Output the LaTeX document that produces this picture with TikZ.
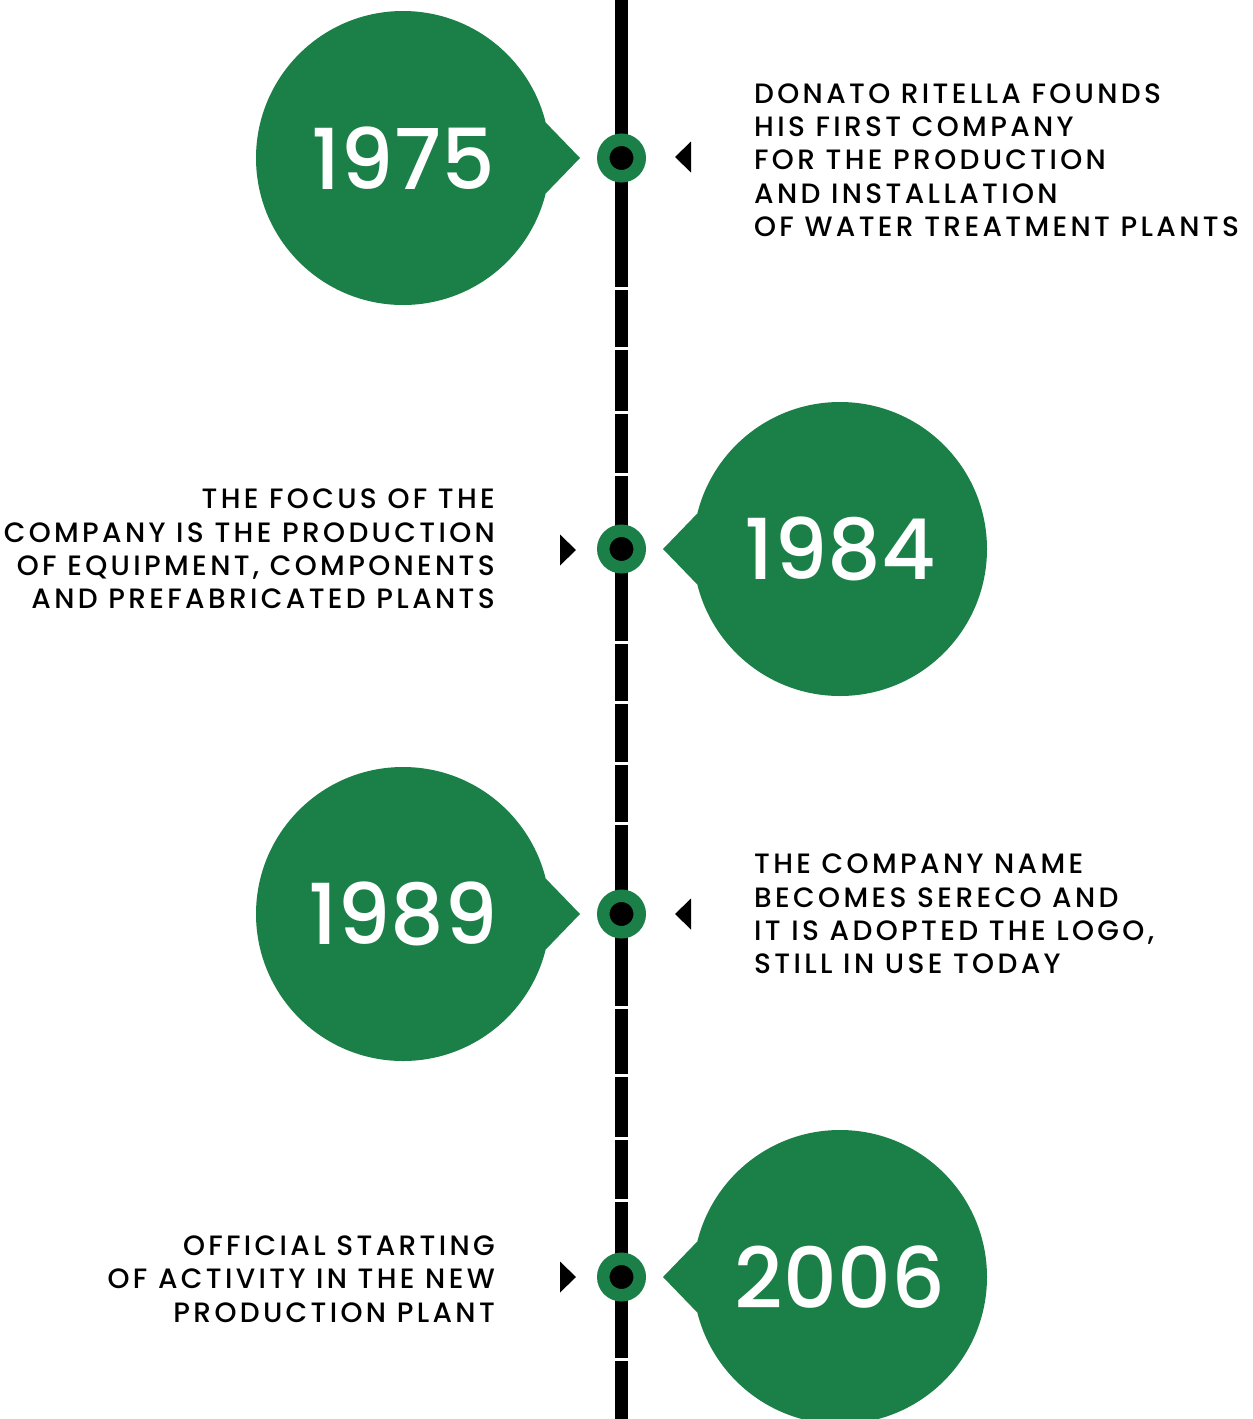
\documentclass[tikz,border=0pt]{standalone}
\usepackage{fontspec}
\setmainfont{Poppins}[UprightFont=* Medium]
\definecolor{sgreen}{RGB}{27,127,72}

\begin{document}
\begin{tikzpicture}
  [x=1pt,y=-1pt,
   year/.style={circle,fill=sgreen,minimum size=294pt,inner sep=0pt,outer sep=0pt,
     text=white,font=\fontsize{84}{84}\selectfont},
   dot/.style={circle,fill=black,draw=sgreen,line width=12.5pt,minimum size=36.5pt,inner sep=0pt},
   note/.style={font=\fontsize{28}{33.3}\selectfont\addfontfeatures{LetterSpace=12},inner sep=0pt}]
  \useasboundingbox (0,0) rectangle (1253,1419);
  % timeline
  \coordinate (top) at (621.5,0);
  \coordinate (bottom) at (621.5,1419);
  \draw[line width=13pt] (top) -- (bottom);
  \foreach \y in {288,348,412,474,642,702,763,823,1007,1075,1138,1200,1359}
    \fill[white] (614,\y-1.5) rectangle (629,\y+1.5);
  % year bubbles
  \node[year] (y1975) at (403,158) {1975};
  \node[year] (y1984) at (840,549) {1984};
  \node[year] (y1989) at (403,914) {1989};
  \node[year] (y2006) at (840,1277) {2006};
  \coordinate (t1975) at (580,158);
  \coordinate (t1984) at (663,549);
  \coordinate (t1989) at (580,914);
  \coordinate (t2006) at (663,1277);
  \foreach \n in {1975,1989}
    \fill[sgreen] (y\n.14) -- (t\n) -- (y\n.-14) -- cycle;
  \foreach \n in {1984,2006}
    \fill[sgreen] (y\n.166) -- (t\n) -- (y\n.194) -- cycle;
  % dots on the line
  \node[dot] (d1975) at (621.5,158) {};
  \node[dot] (d1984) at (621.5,549) {};
  \node[dot] (d1989) at (621.5,914) {};
  \node[dot] (d2006) at (621.5,1277) {};
  % small arrow heads
  \fill (675,157) -- (691,141.5) -- (691,172.5) -- cycle;
  \fill (576,550) -- (560,534.5) -- (560,565.5) -- cycle;
  \fill (675,914) -- (691,898.5) -- (691,929.5) -- cycle;
  \fill (576,1277) -- (560,1261.5) -- (560,1292.5) -- cycle;
  % texts
  \node[note,anchor=west,align=left] (n1975) at (754,160)
    {DONATO RITELLA FOUNDS\\HIS FIRST COMPANY\\FOR THE PRODUCTION\\AND INSTALLATION\\OF WATER TREATMENT PLANTS};
  \node[note,anchor=east,align=right] (n1984) at (495,549)
    {THE FOCUS OF THE\\COMPANY IS THE PRODUCTION\\OF EQUIPMENT, COMPONENTS\\AND PREFABRICATED PLANTS};
  \node[note,anchor=west,align=left] (n1989) at (754,914)
    {THE COMPANY NAME\\BECOMES SERECO AND\\IT IS ADOPTED THE LOGO,\\STILL IN USE TODAY};
  \node[note,anchor=east,align=right] (n2006) at (495,1279)
    {OFFICIAL STARTING\\OF ACTIVITY IN THE NEW\\PRODUCTION PLANT};
\end{tikzpicture}
\end{document}
